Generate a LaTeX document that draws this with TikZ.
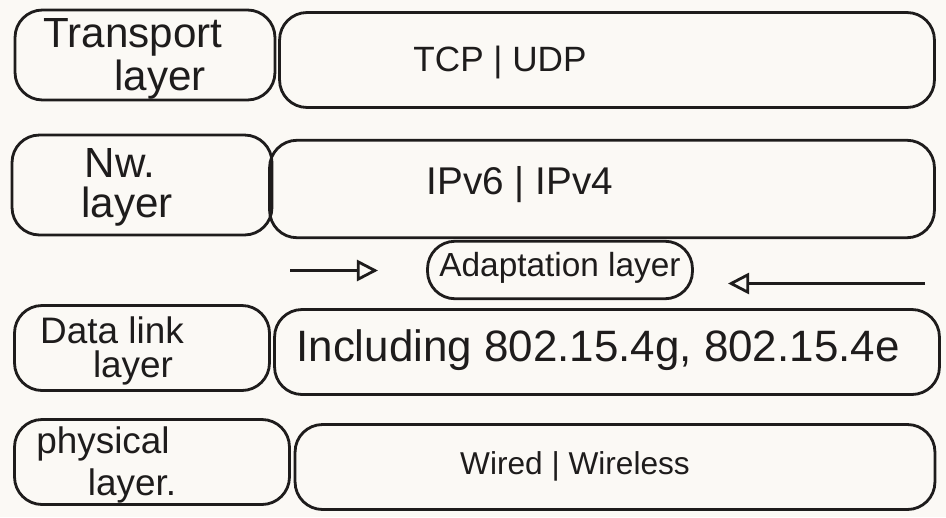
\documentclass[tikz,border=0pt]{standalone}
\usepackage{fontspec}
\setmainfont{Liberation Sans}
\usetikzlibrary{arrows.meta,calc}
\definecolor{paper}{HTML}{FBF9F5}
\definecolor{ink}{HTML}{1E1C1C}
\newcommand{\fsz}[1]{\fontsize{#1}{#1}\selectfont}
\tikzset{
  px/.style={x={(0.02cm,0)},y={(0,-0.02cm)}},
  layerbox/.style={draw=ink,line width=1.6pt,rounded corners=0.55cm,inner sep=0pt},
  lbl/.style={text=ink,align=center,inner sep=1pt},
  arr/.style={draw=ink,line width=1.9pt,-{Triangle[open,length=12pt,width=12pt,line width=1.6pt]}}
}
\begin{document}
\begin{tikzpicture}[px]
  \fill[paper] (0,0) rectangle (946,517);
  \useasboundingbox (0,0) rectangle (946,517);

  % transport layer
  \node[layerbox,minimum width=5.2cm,minimum height=1.8cm] (tl) at (145,55) {};
  \node[layerbox,minimum width=13.1cm,minimum height=1.9cm] (tr) at (607,60) {};
  \node[lbl,font=\fsz{24}] (tlt) at (133,37) {Transport};
  \node[lbl,font=\fsz{24}] (tlb) at (160,80) {layer};
  \node[lbl,font=\fsz{20}] (trt) at (500,62) {TCP | UDP};

  % network layer
  \node[layerbox,minimum width=5.2cm,minimum height=2.0cm] (nl) at (142,185) {};
  \node[layerbox,minimum width=13.3cm,minimum height=1.95cm] (nr) at (602,189) {};
  \node[lbl,font=\fsz{24}] (nlt) at (120,163) {Nw.};
  \node[lbl,font=\fsz{24}] (nlb) at (127,207) {layer};
  \node[lbl,font=\fsz{22}] (nrt) at (520,185) {IPv6 | IPv4};

  % adaptation layer between network and data link
  \node[layerbox,minimum width=5.3cm,minimum height=1.15cm] (ad) at (560,270) {};
  \node[lbl,font=\fsz{19}] (adt) at (560,268) {Adaptation layer};
  \coordinate (aLs) at (290,270.5);
  \coordinate (aLe) at (378,270.5);
  \coordinate (aRs) at (925,283.5);
  \coordinate (aRe) at (728,283.5);
  \draw[arr] (aLs) -- (aLe);
  \draw[arr] (aRs) -- (aRe);

  % data link layer
  \node[layerbox,minimum width=5.1cm,minimum height=1.7cm] (dl) at (142,348) {};
  \node[layerbox,minimum width=13.3cm,minimum height=1.7cm] (dr) at (607,352) {};
  \node[lbl,font=\fsz{21}] (dlt) at (112,330) {Data link};
  \node[lbl,font=\fsz{21}] (dlb) at (133,368) {layer};
  \node[lbl,font=\fsz{25}] (drt) at (598,350) {Including 802.15.4g, 802.15.4e};

  % physical layer
  \node[layerbox,minimum width=5.5cm,minimum height=1.7cm] (pl) at (152,462) {};
  \node[layerbox,minimum width=12.8cm,minimum height=1.7cm] (pr) at (615,467) {};
  \node[lbl,font=\fsz{21}] (plt) at (103,444) {physical};
  \node[lbl,font=\fsz{21}] (plb) at (132,486) {layer.};
  \node[lbl,font=\fsz{18}] (prt) at (575,466) {Wired | Wireless};
\end{tikzpicture}
\end{document}
